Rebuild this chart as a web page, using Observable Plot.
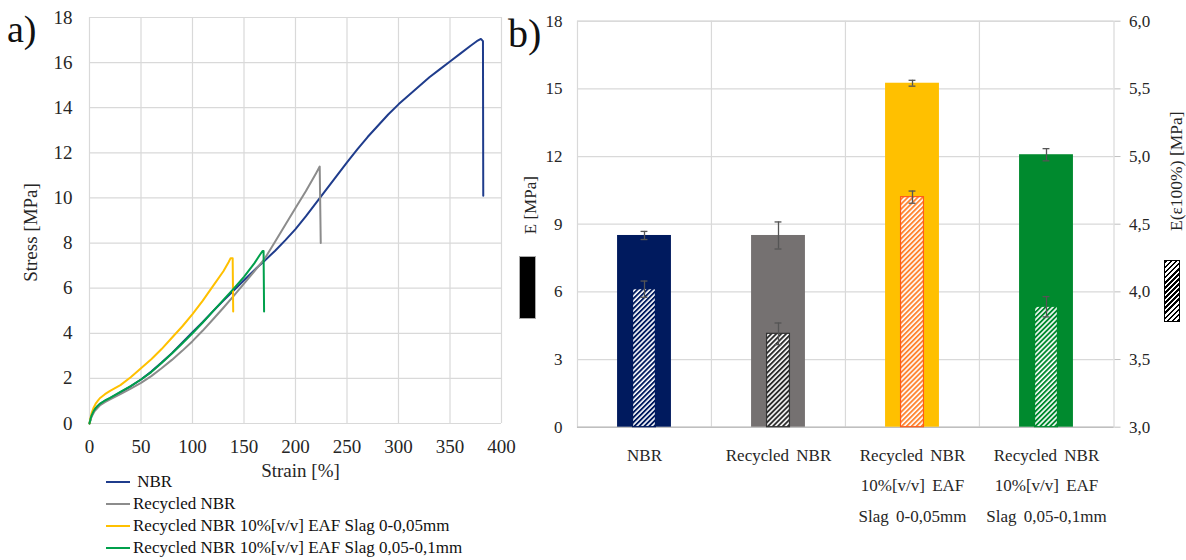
<!DOCTYPE html>
<html>
<head>
<meta charset="utf-8">
<script src="https://cdn.jsdelivr.net/npm/d3@7"></script>
<script src="https://cdn.jsdelivr.net/npm/@observablehq/plot@0.6"></script>
<style>
  html, body { margin: 0; padding: 0; background: #fff; }
  #root { position: relative; width: 1186px; height: 560px; overflow: hidden; background: #fff;
          font-family: "Liberation Serif", "Times New Roman", serif; color: #262626; }
  .abs { position: absolute; }
  .panel-label { font-size: 38px; line-height: 1; color: #111; }
  .leg-row { position: absolute; left: 106px; height: 22px; line-height: 22px; font-size: 17px; white-space: nowrap; color: #111; }
  .leg-sw { display: inline-block; width: 24px; height: 2px; vertical-align: middle; margin-right: 3px; position: relative; top: -1px; }
  g[aria-label="x-axis tick label"] text { word-spacing: 3px; }
</style>
</head>
<body>
<div id="root"></div>
<script>
// ---------------- Panel a) stress–strain data ----------------
const seriesNames = [
  "NBR",
  "Recycled NBR",
  "Recycled NBR 10%[v/v] EAF Slag 0-0,05mm",
  "Recycled NBR 10%[v/v] EAF Slag 0,05-0,1mm"
];
const lineColors = ["#1f3c8c", "#8c8c8c", "#ffc000", "#00a04b"];

const nbrStrain = [0,1,2,4,6,8,10,15,20,30,40,50,60,70,80,90,100,110,120,130,140,150,160,170,180,190,200,210,220,230,240,250,260,270,280,290,300,310,320,330,340,350,360,370,376,380,382,382.3];
const nbrStress = [0,0.2,0.35,0.55,0.68,0.78,0.86,1.0,1.12,1.38,1.65,1.95,2.3,2.7,3.12,3.58,4.05,4.5,4.98,5.45,5.9,6.35,6.8,7.22,7.65,8.12,8.62,9.18,9.78,10.38,10.98,11.58,12.15,12.7,13.2,13.7,14.15,14.55,14.95,15.35,15.7,16.05,16.4,16.75,16.95,17.05,16.95,10.1];

const recStrain = [0,2,5,10,15,20,30,40,50,60,70,80,90,100,110,120,130,140,150,160,170,180,190,200,210,220,223.5,224.5];
const recStress = [0,0.3,0.55,0.8,0.95,1.07,1.3,1.55,1.8,2.1,2.45,2.82,3.22,3.65,4.12,4.62,5.13,5.66,6.2,6.75,7.3,8.05,8.8,9.55,10.3,11.1,11.39,8.0];

const fineStrain = [0,1,2,4,6,8,10,15,20,30,40,50,60,70,80,90,100,110,120,130,135,137,139,139.5];
const fineStress = [0,0.25,0.45,0.7,0.88,1.0,1.12,1.3,1.45,1.7,2.05,2.45,2.85,3.3,3.8,4.3,4.85,5.45,6.1,6.75,7.15,7.33,7.33,4.97];

const coarseStrain = [0,1,2,4,6,8,10,15,20,30,40,50,60,70,80,90,100,110,120,130,140,150,160,165,168,169,169.5];
const coarseStress = [0,0.2,0.35,0.55,0.68,0.78,0.87,1.02,1.14,1.4,1.66,1.95,2.28,2.68,3.1,3.55,4.0,4.48,4.98,5.48,5.98,6.5,7.1,7.45,7.65,7.65,4.97];

const strainTicks = [0,50,100,150,200,250,300,350,400];
const stressTicks = [0,2,4,6,8,10,12,14,16,18];

// ---------------- Panel b) modulus data ----------------
const categories = [
  "NBR",
  "Recycled NBR",
  "Recycled NBR\n10%[v/v] EAF\nSlag 0-0,05mm",
  "Recycled NBR\n10%[v/v] EAF\nSlag 0,05-0,1mm"
];
const eValues = [8.5, 8.5, 15.25, 12.08];
const eErrors = [0.18, 0.6, 0.13, 0.27];
const e100Values = [4.02, 3.69, 4.70, 3.89];
const e100Errors = [0.06, 0.08, 0.045, 0.075];
const barColors = ["#001a5e", "#757171", "#ffc000", "#008a2e"];
const hatchColors = ["#001a5e", "#2b2b2b", "#ff8430", "#008a2e"];
const hatchBorders = ["#001a5e", "#333333", "#ff5a1a", "#008a2e"];
const eTicks = [0, 3, 6, 9, 12, 15, 18];
const e100Ticks = [3.0, 3.5, 4.0, 4.5, 5.0, 5.5, 6.0];
const eDomain = [0, 18];
const e100Domain = [3, 6];

const root = document.getElementById("root");
const fontFam = "'Liberation Serif', 'Times New Roman', serif";

// ---------- build panel a ----------
const lineSets = [
  [nbrStrain, nbrStress],
  [recStrain, recStress],
  [fineStrain, fineStress],
  [coarseStrain, coarseStress]
];
const lineRows = lineSets.map(([xs, ys], i) => xs.map((x, j) => ({series: seriesNames[i], strain: x, stress: ys[j]})));

const plotA = Plot.plot({
  width: 510, height: 480,
  marginLeft: 89, marginRight: 9, marginTop: 17, marginBottom: 57,
  style: {fontFamily: fontFam, fontSize: "19px", color: "#262626", background: "transparent", overflow: "visible"},
  x: {domain: [0, 400], axis: null},
  y: {domain: [0, 18], axis: null},
  marks: [
    Plot.gridX(strainTicks, {stroke: "#d9d9d9", strokeOpacity: 1, strokeWidth: 1.2}),
    Plot.gridY(stressTicks, {stroke: "#d9d9d9", strokeOpacity: 1, strokeWidth: 1.2}),
    Plot.axisX({ticks: strainTicks, tickSize: 0, tickPadding: 16, label: null, fontSize: 19}),
    Plot.axisY({ticks: stressTicks, tickSize: 0, tickPadding: 17, label: null, fontSize: 19}),
    ...lineRows.map((rows, i) => Plot.line(rows, {x: "strain", y: "stress", stroke: lineColors[i], strokeWidth: 2, curve: "linear"})),
    Plot.text(["Stress [MPa]"], {text: d => d, frameAnchor: "left", textAnchor: "middle", lineAnchor: "middle", rotate: -90, dx: -59, dy: 12, fontSize: 19, fill: "#262626"}),
    Plot.text(["Strain [%]"], {text: d => d, frameAnchor: "bottom", textAnchor: "middle", lineAnchor: "middle", dx: 5, dy: 47, fontSize: 19, fill: "#262626"})
  ]
});
const wrapA = document.createElement("div");
wrapA.className = "abs";
wrapA.style.cssText = "left:0;top:0;width:510px;height:480px;";
wrapA.appendChild(plotA);
root.appendChild(wrapA);

// legend for panel a
const legTops = [471, 493, 515, 537];
seriesNames.forEach((name, i) => {
  const row = document.createElement("div");
  row.className = "leg-row";
  row.style.top = legTops[i] + "px";
  const sw = document.createElement("span");
  sw.className = "leg-sw";
  sw.style.background = lineColors[i];
  row.appendChild(sw);
  row.appendChild(document.createTextNode((i === 0 ? "\u00a0" : "") + name));
  root.appendChild(row);
});

// ---------- build panel b ----------
const W = 686, H = 560, mL = 77, mR = 72.5, mT = 20.7, mB = 133.3;
const bw = (W - mL - mR) / categories.length;
const barInset = (bw - 54) / 2;
const hatchInset = (bw - 23) / 2;
const capInset = (bw - 7) / 2;
const toLeft = d3.scaleLinear(e100Domain, eDomain);

const rowsB = categories.map((cat, i) => ({
  cat, e: eValues[i], eErr: eErrors[i], e100: e100Values[i], e100Err: e100Errors[i]
}));

const fmtRight = v => d3.format(".1f")(v).replace(".", ",");

const plotB = Plot.plot({
  width: W, height: H,
  marginLeft: mL, marginRight: mR, marginTop: mT, marginBottom: mB,
  style: {fontFamily: fontFam, fontSize: "17px", color: "#262626", background: "transparent", overflow: "visible"},
  x: {domain: categories, padding: 0, axis: null},
  y: {domain: eDomain, axis: null},
  color: {domain: categories, range: barColors},
  marks: [
    Plot.gridY(eTicks.slice(1), {stroke: "#d9d9d9", strokeOpacity: 1, strokeWidth: 1.2}),
    Plot.ruleX(categories.slice(1), {dx: -bw / 2, stroke: "#d9d9d9", strokeWidth: 1.2}),
    Plot.frame({stroke: "#d9d9d9", strokeWidth: 1.2}),
    Plot.ruleY([0], {stroke: "#bfbfbf", strokeWidth: 1.5}),
    Plot.barY(rowsB, {x: "cat", y: "e", fill: "cat", insetLeft: barInset, insetRight: barInset}),
    Plot.ruleX(rowsB, {x: "cat", y1: d => d.e - d.eErr, y2: d => d.e + d.eErr, stroke: "#555", strokeWidth: 1.3}),
    Plot.tickY(rowsB, {x: "cat", y: d => d.e + d.eErr, stroke: "#555", strokeWidth: 1.3, insetLeft: capInset, insetRight: capInset}),
    Plot.tickY(rowsB, {x: "cat", y: d => d.e - d.eErr, stroke: "#555", strokeWidth: 1.3, insetLeft: capInset, insetRight: capInset}),
    ...rowsB.map((r, i) => Plot.barY([r], {
      x: "cat", y1: () => toLeft(e100Domain[0]), y2: d => toLeft(d.e100),
      fill: `url(#hatch${i})`, stroke: hatchBorders[i], strokeWidth: 1.2,
      insetLeft: hatchInset, insetRight: hatchInset
    })),
    Plot.ruleX(rowsB, {x: "cat", y1: d => toLeft(d.e100 - d.e100Err), y2: d => toLeft(d.e100 + d.e100Err), stroke: "#555", strokeWidth: 1.3}),
    Plot.tickY(rowsB, {x: "cat", y: d => toLeft(d.e100 + d.e100Err), stroke: "#555", strokeWidth: 1.3, insetLeft: capInset, insetRight: capInset}),
    Plot.tickY(rowsB, {x: "cat", y: d => toLeft(d.e100 - d.e100Err), stroke: "#555", strokeWidth: 1.3, insetLeft: capInset, insetRight: capInset}),
    Plot.axisY({ticks: eTicks, anchor: "left", tickSize: 0, tickPadding: 15, label: null, fontSize: 17}),
    Plot.axisY({ticks: e100Ticks.map(toLeft), anchor: "right", tickSize: 6, tickPadding: 9, stroke: "#bfbfbf", fill: "#262626",
                tickFormat: d => fmtRight(toLeft.invert(d)), label: null, fontSize: 17}),
    Plot.axisX({tickSize: 0, tickPadding: 13, lineHeight: 1.765, label: null, fontSize: 17}),
    Plot.text(["E [MPa]"], {text: d => d, frameAnchor: "left", textAnchor: "middle", lineAnchor: "middle", rotate: -90, dx: -47, dy: -19, fontSize: 17, fill: "#262626"}),
    Plot.text(["E(\u03b5100%) [MPa]"], {text: d => d, frameAnchor: "right", textAnchor: "middle", lineAnchor: "middle", rotate: -90, dx: 62.5, dy: -53, fontSize: 17.5, fill: "#262626"})
  ]
});

// hatch pattern definitions
const P = 3.5;
const defs = d3.select(plotB).insert("defs", ":first-child");
hatchColors.forEach((c, i) => {
  const p = defs.append("pattern")
    .attr("id", `hatch${i}`)
    .attr("patternUnits", "userSpaceOnUse")
    .attr("width", P).attr("height", P)
    .attr("patternTransform", "rotate(45)");
  p.append("rect").attr("width", P).attr("height", P).attr("fill", "#fff");
  p.append("rect").attr("width", 1.9).attr("height", P).attr("fill", c);
});

const wrapB = document.createElement("div");
wrapB.className = "abs";
wrapB.style.cssText = "left:500px;top:0;width:686px;height:560px;";
wrapB.appendChild(plotB);
root.appendChild(wrapB);

// legend swatches of panel b
const swE = document.createElement("div");
swE.className = "abs";
swE.style.cssText = "left:520px;top:257px;width:15px;height:61px;background:#000;box-shadow:0 0 0 1px #aaa;";
root.appendChild(swE);
const swH = document.createElement("div");
swH.className = "abs";
swH.style.cssText = "left:1164px;top:260px;width:16px;height:62px;border:1px solid #000;box-sizing:border-box;" +
  "background:repeating-linear-gradient(135deg,#000 0 1.9px,#fff 1.9px 3.6px);";
root.appendChild(swH);

// panel labels
const la = document.createElement("div");
la.className = "abs panel-label";
la.style.cssText = "left:7px;top:10px;";
la.textContent = "a)";
root.appendChild(la);
const lb = document.createElement("div");
lb.className = "abs panel-label";
lb.style.cssText = "left:508px;top:14px;font-size:40px;";
lb.textContent = "b)";
root.appendChild(lb);
</script>
</body>
</html>
